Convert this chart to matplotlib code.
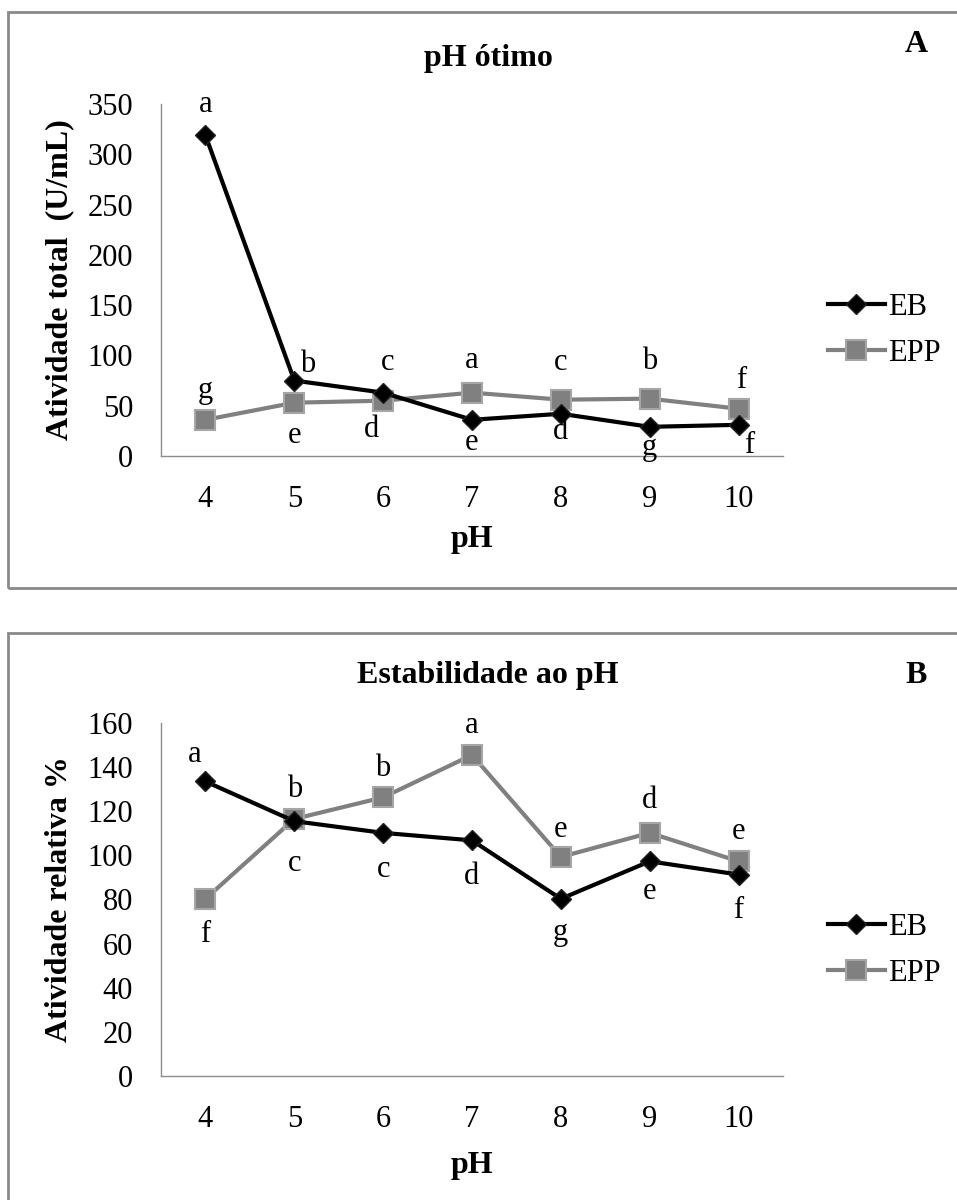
import matplotlib
matplotlib.use("Agg")
import matplotlib.pyplot as plt
from matplotlib.patches import Rectangle
from matplotlib.lines import Line2D

plt.rcParams['font.family'] = ['Liberation Serif', 'DejaVu Serif']

# ---------------- data ----------------
ph = [4, 5, 6, 7, 8, 9, 10]
series_names = ["EB", "EPP"]

# Panel A - pH ótimo (Atividade total U/mL)
eb_total = [319, 75, 63, 36, 42, 29, 31]
epp_total = [36, 53, 55, 63, 56, 57, 47]
eb_total_letters = ["a", "b", "c", "e", "d", "g", "f"]
epp_total_letters = ["g", "e", "d", "a", "c", "b", "f"]

# Panel B - Estabilidade ao pH (Atividade relativa %)
eb_rel = [133.5, 115.5, 110.2, 106.8, 80.3, 97.3, 91.3]
epp_rel = [80.3, 116.5, 126.3, 145.5, 99.3, 110.2, 97.3]
eb_rel_letters = ["a", "c", "c", "d", "g", "e", "f"]
epp_rel_letters = ["f", "b", "b", "a", "e", "d", "e"]

yticks_a = [0, 50, 100, 150, 200, 250, 300, 350]
yticks_b = [0, 20, 40, 60, 80, 100, 120, 140, 160]

# ---------------- layout helpers (pixels) ----------------
W, H = 957, 1200
def fx(px):
    return px / W
def fy(py):
    return 1 - py / H

# label offsets in pixels (dx, dy baseline)
off_eb_a = [(0, 23), (13, 9), (4, 23), (0, -30), (0, -25), (0, -28), (11, -28)]
off_epp_a = [(0, 22), (0, -40), (-12, -36), (0, 25), (0, 30), (0, 30), (3, 21)]
off_eb_b = [(-11, 19), (0, -50), (0, -44), (0, -44), (0, -41), (0, -38), (0, -43)]
off_epp_b = [(0, -43), (0, 22), (0, 21), (0, 22), (0, 20), (0, 25), (0, 22)]

EB_COLOR = "black"
EPP_COLOR = "#808080"
AX_COLOR = "#8c8c8c"
FS = 22
FSB = 23

fig = plt.figure(figsize=(W / 100, H / 100), dpi=100)

# panel borders
fig.patches.append(Rectangle((fx(8), fy(588)), 1.2, fy(12) - fy(588),
                             transform=fig.transFigure, fill=False,
                             ec="#8a8a8a", lw=2.0))
fig.patches.append(Rectangle((fx(8), fy(1260)), 1.2, fy(633) - fy(1260),
                             transform=fig.transFigure, fill=False,
                             ec="#8a8a8a", lw=2.0))


def make_panel(top, bottom, eb, epp, eb_letters, epp_letters, off_eb, off_epp,
               yticks, ylabel, title, tag, title_base, tag_base, xlabel_base,
               legend_center):
    ax = fig.add_axes([fx(161), fy(bottom), fx(783) - fx(161), fy(top) - fy(bottom)])
    ax.plot(ph, eb, color=EB_COLOR, lw=3.0, marker="D", ms=10.5,
            mfc="black", mec="#222222", mew=1.0, zorder=3, label=series_names[0])
    ax.plot(ph, epp, color=EPP_COLOR, lw=3.0, marker="s", ms=14.5,
            mfc=EPP_COLOR, mec="#a6a6a6", mew=1.5, zorder=2, label=series_names[1])
    ax.set_xlim(3.5, 10.5)
    ax.set_ylim(yticks[0], yticks[-1])
    ax.set_xticks(ph)
    ax.set_xticklabels([str(p) for p in ph])
    ax.set_yticks(yticks)
    ax.set_yticklabels([str(t) for t in yticks])
    for s in ["top", "right"]:
        ax.spines[s].set_visible(False)
    for s in ["left", "bottom"]:
        ax.spines[s].set_color(AX_COLOR)
        ax.spines[s].set_linewidth(1.0)
    ax.tick_params(axis="both", length=0, labelsize=FS)
    ax.tick_params(axis="y", pad=20)
    ax.tick_params(axis="x", pad=21)
    ax.patch.set_alpha(0)

    for x, y, t, (dx, dy) in zip(ph, eb, eb_letters, off_eb):
        ax.annotate(t, (x, y), xytext=(dx, dy), textcoords="offset pixels",
                    ha="center", va="baseline", fontsize=FS, zorder=5)
    for x, y, t, (dx, dy) in zip(ph, epp, epp_letters, off_epp):
        ax.annotate(t, (x, y), xytext=(dx, dy), textcoords="offset pixels",
                    ha="center", va="baseline", fontsize=FS, zorder=5)

    fig.text(fx(60), fy((top + bottom) / 2), ylabel, rotation=90,
             ha="center", va="center", fontsize=FSB, fontweight="bold")
    fig.text(fx(488), fy(title_base), title, ha="center", va="baseline",
             fontsize=FSB, fontweight="bold")
    fig.text(fx(916), fy(tag_base), tag, ha="center", va="baseline",
             fontsize=FSB, fontweight="bold")
    fig.text(fx(472), fy(xlabel_base), "pH", ha="center", va="baseline",
             fontsize=FSB, fontweight="bold")

    leg = ax.legend(loc="center left", bbox_to_anchor=(fx(828), fy(legend_center)),
                    bbox_transform=fig.transFigure, frameon=False, fontsize=FS,
                    handlelength=1.85, handletextpad=0.12, borderpad=0,
                    borderaxespad=0, labelspacing=0.55)
    return ax


make_panel(104, 456, eb_total, epp_total, eb_total_letters, epp_total_letters,
           off_eb_a, off_epp_a, yticks_a, "Atividade total  (U/mL)",
           "pH ótimo", "A", 66, 52, 547, 330.5)
make_panel(723, 1076, eb_rel, epp_rel, eb_rel_letters, epp_rel_letters,
           off_eb_b, off_epp_b, yticks_b, "Atividade relativa %",
           "Estabilidade ao pH", "B", 683, 683, 1173, 950.5)

fig.savefig("out.png", dpi=100)
